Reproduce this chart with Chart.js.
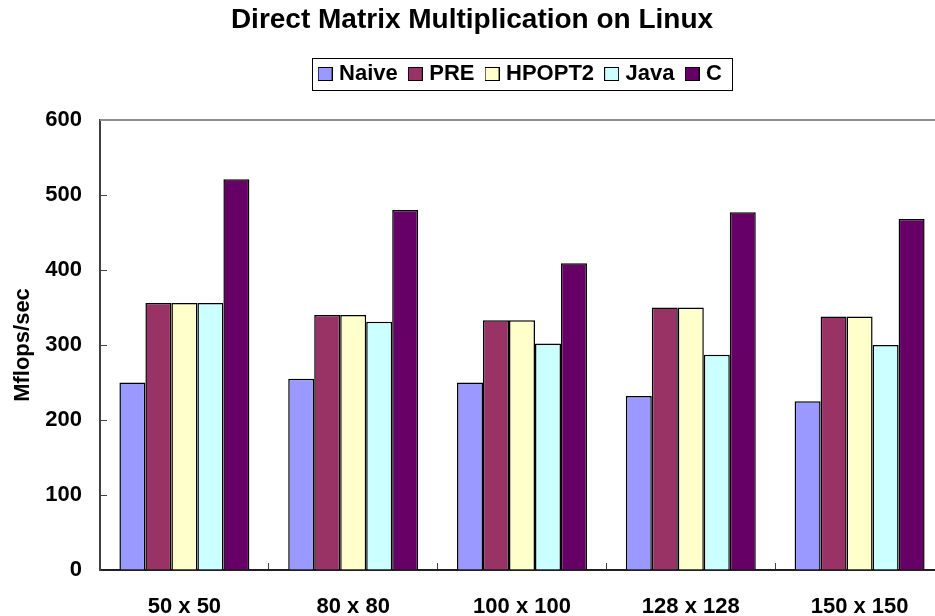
<!DOCTYPE html>
<html>
<head>
<meta charset="utf-8">
<script src="https://cdn.jsdelivr.net/npm/chart.js@4/dist/chart.umd.min.js"></script>
<style>
html, body { margin: 0; padding: 0; overflow: hidden; background: #fff; }
#wrap { width: 944px; height: 616px; }
canvas { display: block; }
</style>
</head>
<body>
<div id="wrap"><canvas id="c" width="944" height="616"></canvas></div>
<script>
// ---- data ----
const categories = ['50 x 50', '80 x 80', '100 x 100', '128 x 128', '150 x 150'];
const seriesNames = ['Naive', 'PRE', 'HPOPT2', 'Java', 'C'];
const naive  = [250, 255, 250, 232, 225];
const pre    = [356, 340, 333, 350, 338];
const hpopt2 = [356, 340, 333, 350, 338];
const java   = [356, 331, 302, 287, 300];
const cLang  = [521, 480, 409, 477, 468];
const yTicks = [0, 100, 200, 300, 400, 500, 600];
const chartTitle = 'Direct Matrix Multiplication on Linux';
const yTitle = 'Mflops/sec';

// ---- style ----
const colors = ['#9999FF', '#993366', '#FFFFCC', '#CCFFFF', '#660066'];
const FONT = "'Liberation Sans', Arial, Helvetica, sans-serif";

function swatch(color) {
  const c = document.createElement('canvas');
  c.width = 15; c.height = 14;
  const g = c.getContext('2d');
  g.fillStyle = color; g.fillRect(0, 0, 15, 14);
  g.strokeStyle = '#000'; g.lineWidth = 1; g.strokeRect(0.5, 0.5, 14, 13);
  return c;
}
const swatches = colors.map(swatch);

const seriesValues = [naive, pre, hpopt2, java, cLang];
const datasets = seriesNames.map((n, i) => ({
  label: n,
  data: seriesValues[i],
  backgroundColor: colors[i],
  borderColor: '#000',
  borderWidth: 1.5,
  barPercentage: 1.0,
  categoryPercentage: 0.77
}));

const LEGEND_EXTRA = 25;
const framePlugin = {
  id: 'frame',
  beforeLayout(chart) {
    const lg = chart.legend;
    if (lg && !lg._patched) {
      const f = lg.fit;
      lg.fit = function () { f.call(this); this.height += LEGEND_EXTRA; };
      lg._patched = true;
    }
  },
  afterDraw(chart) {
    const ctx = chart.ctx, a = chart.chartArea;
    ctx.save();
    // top border of plot area
    ctx.strokeStyle = '#909090'; ctx.lineWidth = 2;
    ctx.beginPath(); ctx.moveTo(a.left, a.top); ctx.lineTo(a.right, a.top); ctx.stroke();
    // legend frame
    const hb = chart.legend.legendHitBoxes;
    if (hb && hb.length) {
      const first = hb[0], last = hb[hb.length - 1];
      const cy = first.top + first.height / 2;
      const l = Math.round(first.left - 10.5) + 0.5;
      const r = Math.round(last.left + last.width + 10) + 0.5;
      const t = Math.round(cy - 16) + 0.5, b = Math.round(cy + 16) + 0.5;
      ctx.strokeStyle = '#000'; ctx.lineWidth = 1;
      ctx.strokeRect(l, t, r - l, b - t);
    }
    ctx.restore();
  }
};

new Chart(document.getElementById('c'), {
  type: 'bar',
  data: { labels: categories, datasets },
  options: {
    responsive: false,
    animation: false,
    devicePixelRatio: 1,
    layout: { padding: 0 },
    plugins: {
      title: {
        display: true,
        text: chartTitle,
        color: '#000',
        font: { family: FONT, size: 28, weight: 'bold', lineHeight: 1.2 },
        padding: { top: 3.5, bottom: 11.4 }
      },
      legend: {
        display: true,
        position: 'top',
        fullSize: false,
        labels: {
          color: '#000',
          font: { family: FONT, size: 22, weight: 'bold' },
          usePointStyle: true,
          boxWidth: 6,
          padding: 14.5,
          generateLabels(chart) {
            const items = Chart.defaults.plugins.legend.labels.generateLabels(chart);
            items.forEach((it, i) => { it.pointStyle = swatches[i]; });
            return items;
          }
        },
        onClick: null
      },
      tooltip: { enabled: false }
    },
    scales: {
      x: {
        grid: { display: true, drawOnChartArea: false, drawTicks: true, tickLength: -7, color: '#404040', lineWidth: 1 },
        border: { display: true, color: '#202020', width: 2 },
        ticks: { color: '#000', font: { family: FONT, size: 22, weight: 'bold' }, padding: 30.5, maxRotation: 0, autoSkip: false },
        afterFit(s) { s.height = 46; }
      },
      y: {
        min: 0, max: 600,
        afterBuildTicks(s) { s.ticks = yTicks.map(v => ({ value: v })); },
        grid: { display: true, drawOnChartArea: false, drawTicks: true, tickLength: -7, color: '#404040', lineWidth: 1 },
        border: { display: true, color: '#404040', width: 2 },
        ticks: { color: '#000', font: { family: FONT, size: 22, weight: 'bold' }, padding: 25 },
        title: {
          display: true, text: yTitle, color: '#000',
          font: { family: FONT, size: 22, weight: 'bold', lineHeight: 1.2 },
          padding: { top: 10, bottom: 0 }
        },
        afterFit(s) { s.width = 100; }
      }
    }
  },
  plugins: [framePlugin]
});
</script>
</body>
</html>
